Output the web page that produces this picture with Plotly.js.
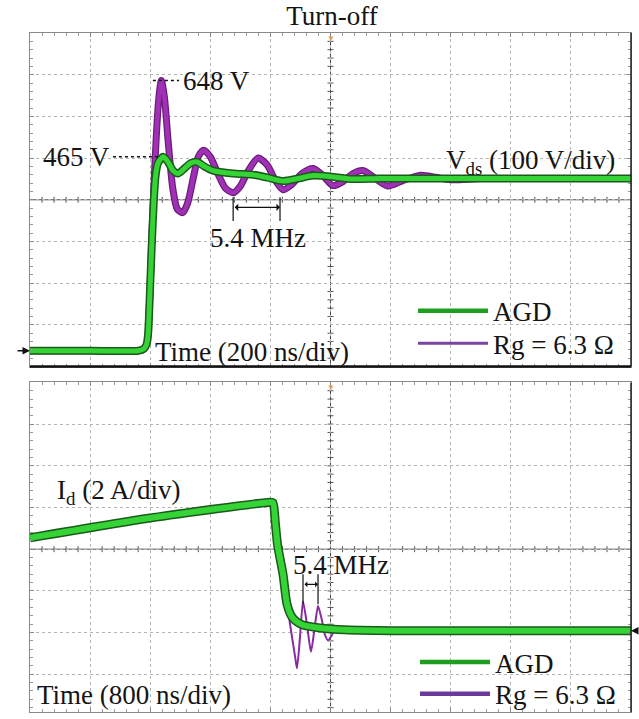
<!DOCTYPE html>
<html><head><meta charset="utf-8">
<script src="https://cdn.plot.ly/plotly-3.0.1.min.js"></script>
<style>html,body{margin:0;padding:0;background:#fff;} #chart{width:639px;height:719px;}</style>
</head><body><div id="chart"></div>
<script>
// ---------- DATA ----------
// Top panel: drain-source voltage at turn-off, time in ns (200 ns/div), voltage in V (100 V/div)
const vdsTimeRg = [0, 200, 360, 378, 388, 393, 398, 405, 412, 420, 428, 437, 447, 460, 475, 490, 508, 525, 545, 560, 578, 600, 625, 650, 676, 700, 725, 759, 790, 815, 842, 870, 905, 942, 975, 1008, 1040, 1075, 1108, 1140, 1190, 1240, 1300, 1350, 1400, 1500, 1700, 2000];
const vdsRg     = [0, 0,   0,   4,   15,  40,  120, 260, 390, 510, 600, 648, 610, 500, 390, 340, 331, 355, 420, 465, 481, 465, 425, 390, 379, 395, 430, 462, 445, 410, 386, 398, 425, 437, 420, 396, 405, 425, 432, 418, 395, 408, 421, 416, 410, 413, 413, 413];
const vdsTimeAgd = [0, 200, 360, 378, 388, 393, 398, 405, 412, 418, 426, 443, 460, 476, 493, 515, 535, 556, 580, 609, 676, 742, 792, 842, 892, 942, 998, 1065, 1165, 1400, 1700, 2000];
const vdsAgd     = [0, 0,   0,   4,   15,  40,  120, 250, 360, 420, 450, 465, 452, 432, 425, 438, 450, 453, 442, 432, 425, 422, 415, 407, 413, 420, 418, 412, 413, 413, 413, 413];
// Bottom panel: drain current, time in ns (800 ns/div), current in A (2 A/div)
const idTimeAgd = [0, 1597, 3195, 3235, 3265, 3295, 3368, 3421, 3488, 3554, 3634, 3860, 4193, 5000, 8000];
const idAgd     = [4.46, 5.41, 6.17, 6.15, 5.2, 4.13, 2.71, 1.28, 0.66, 0.43, 0.28, 0.14, 0.05, 0, 0];
const idTimeRg = [0, 1597, 3195, 3235, 3265, 3295, 3368, 3421, 3475, 3527, 3554, 3594, 3634, 3687, 3740, 3787, 3834, 3880, 3927, 3967, 4020, 4060, 4150, 4300, 8000];
const idRg     = [4.46, 5.41, 6.17, 6.15, 5.2, 4.13, 2.71, 1.3, 0.0, -1.2, -1.8, -0.3, 1.42, 0.3, -1.0, 0.1, 1.19, 0.6, -0.2, -0.45, -0.2, 0.1, 0.05, 0, 0];
// Labels
const seriesNames = ['AGD', 'Rg = 6.3 Ω'];
const panelTitle = 'Turn-off';
const ringLabel = '5.4 MHz';
const vdsLabel = 'V<sub>ds</sub> (100 V/div)';
const idLabel = 'I<sub>d</sub> (2 A/div)';
const timeLabelTop = 'Time (200 ns/div)';
const timeLabelBottom = 'Time (800 ns/div)';

// ---------- STYLE / GEOMETRY ----------
const FONT = "'Liberation Serif', 'Times New Roman', serif";
const TXT = '#141414';
const W = 639, H = 719, ML = 30, MR = 8, MT = 33, MB = 0;
const plotH = H - MT - MB, plotW = W - ML - MR;
const py = p => (H - p) / plotH;              // pixel row -> paper y
const topDom = [py(370), 1];
const botDom = [0, py(386)];
const tRangeTop = [0, 2000], tDivTop = 200;
const tRangeBot = [0, 8000], tDivBot = 800;
const vRange = [-38, 762], vDiv = 100;
const iRange = [-3.893, 11.917], iDiv = 2;

const GREEN = '#36d336', GREEN_DARK = '#1a5a1a';
const PURPLE = '#a030b4', PURPLE_DARK = '#6a1c7c';

function scopeAxis(range, div, tick0, extra) {
  return Object.assign({
    range: range, tick0: tick0, dtick: div, showgrid: true, gridcolor: '#b4b4b4', griddash: 'dot', gridwidth: 1,
    zeroline: false, showline: true, linecolor: '#8a8a8a', linewidth: 1, mirror: 'ticks',
    ticks: 'inside', ticklen: 4, tickcolor: '#8a8a8a', tickwidth: 1, showticklabels: false,
    minor: {ticks: 'inside', ticklen: 3, tickcolor: '#999', tickwidth: 1, dtick: div / 5, tick0: tick0, showgrid: false},
    fixedrange: true
  }, extra || {});
}

const traces = [
  // top panel
  {x: vdsTimeRg, y: vdsRg, mode: 'lines', line: {color: PURPLE_DARK, width: 7, shape: 'spline', smoothing: 0.7}, xaxis: 'x', yaxis: 'y', showlegend: false, hoverinfo: 'skip'},
  {x: vdsTimeRg, y: vdsRg, mode: 'lines', line: {color: PURPLE, width: 4.5, shape: 'spline', smoothing: 0.7}, xaxis: 'x', yaxis: 'y', showlegend: false, name: seriesNames[1]},
  {x: vdsTimeAgd, y: vdsAgd, mode: 'lines', line: {color: GREEN_DARK, width: 8, shape: 'spline', smoothing: 0.7}, xaxis: 'x', yaxis: 'y', showlegend: false, hoverinfo: 'skip'},
  {x: vdsTimeAgd, y: vdsAgd, mode: 'lines', line: {color: GREEN, width: 5, shape: 'spline', smoothing: 0.7}, xaxis: 'x', yaxis: 'y', showlegend: false, name: seriesNames[0]},
  // bottom panel
  {x: idTimeRg, y: idRg, mode: 'lines', line: {color: '#8a2aa0', width: 2, shape: 'spline', smoothing: 0.6}, xaxis: 'x2', yaxis: 'y2', showlegend: false, name: seriesNames[1]},
  {x: idTimeAgd, y: idAgd, mode: 'lines', line: {color: GREEN_DARK, width: 9, shape: 'spline', smoothing: 0.6}, xaxis: 'x2', yaxis: 'y2', showlegend: false, hoverinfo: 'skip'},
  {x: idTimeAgd, y: idAgd, mode: 'lines', line: {color: GREEN, width: 6, shape: 'spline', smoothing: 0.6}, xaxis: 'x2', yaxis: 'y2', showlegend: false, name: seriesNames[0]},
  // legend entries
  {x: [null], y: [null], mode: 'lines', name: seriesNames[0], line: {color: '#1e9e1e', width: 4.5}, xaxis: 'x', yaxis: 'y', legend: 'legend'},
  {x: [null], y: [null], mode: 'lines', name: seriesNames[1], line: {color: '#7a44a4', width: 3}, xaxis: 'x', yaxis: 'y', legend: 'legend2'},
  {x: [null], y: [null], mode: 'lines', name: seriesNames[0], line: {color: '#1e9e1e', width: 4.5}, xaxis: 'x2', yaxis: 'y2', legend: 'legend3'},
  {x: [null], y: [null], mode: 'lines', name: seriesNames[1], line: {color: '#6a3a9c', width: 4.5}, xaxis: 'x2', yaxis: 'y2', legend: 'legend4'}
];

const topPeak = Math.max(...vdsRg);
const agdPeak = Math.max(...vdsAgd);
const vCenter = (vRange[0] + vRange[1]) / 2;
const iCenter = iRange[1] - 4 * iDiv;
const tCenterTop = (tRangeTop[0] + tRangeTop[1]) / 2;
const tCenterBot = (tRangeBot[0] + tRangeBot[1]) / 2;

const shapes = [];
const dark = {color: '#4a4a4a', width: 1};
// center cross lines
shapes.push({type: 'line', xref: 'x', yref: 'y domain', x0: tCenterTop, x1: tCenterTop, y0: 0, y1: 1, line: dark, layer: 'below'});
shapes.push({type: 'line', xref: 'x domain', yref: 'y', x0: 0, x1: 1, y0: vCenter, y1: vCenter, line: dark, layer: 'below'});
shapes.push({type: 'line', xref: 'x2', yref: 'y2 domain', x0: tCenterBot, x1: tCenterBot, y0: 0, y1: 1, line: dark, layer: 'below'});
shapes.push({type: 'line', xref: 'x2 domain', yref: 'y2', x0: 0, x1: 1, y0: iCenter, y1: iCenter, line: dark, layer: 'below'});
// center cross sub-division ticks
const tk = {color: '#555', width: 1};
for (let k = 1; k < 40; k++) {
  if (k % 5 === 0) continue;
  shapes.push({type: 'line', xref: 'x', yref: 'y domain', xsizemode: 'pixel', xanchor: tCenterTop, x0: -3, x1: 3, y0: k / 40, y1: k / 40, line: tk, layer: 'below'});
}
for (let k = 1; k < 50; k++) {
  if (k % 5 === 0) continue;
  shapes.push({type: 'line', xref: 'x domain', yref: 'y', ysizemode: 'pixel', yanchor: vCenter, y0: -3, y1: 3, x0: k / 50, x1: k / 50, line: tk, layer: 'below'});
  shapes.push({type: 'line', xref: 'x2 domain', yref: 'y2', ysizemode: 'pixel', yanchor: iCenter, y0: -3, y1: 3, x0: k / 50, x1: k / 50, line: tk, layer: 'below'});
}
for (let v = iRange[1] - iDiv / 5; v > iRange[0]; v -= iDiv / 5) {
  shapes.push({type: 'line', xref: 'x2', yref: 'y2', xsizemode: 'pixel', xanchor: tCenterBot, x0: -3, x1: 3, y0: v, y1: v, line: tk, layer: 'below'});
}
// darker borders (right / bottom of top panel, right of bottom panel)
shapes.push({type: 'line', xref: 'paper', yref: 'paper', x0: 0, x1: 1, y0: topDom[0], y1: topDom[0], line: {color: '#111', width: 2.5}});
shapes.push({type: 'line', xref: 'paper', yref: 'paper', x0: 1, x1: 1, y0: topDom[0], y1: topDom[1], line: {color: '#222', width: 1.5}});
shapes.push({type: 'line', xref: 'paper', yref: 'paper', x0: 1, x1: 1, y0: botDom[0], y1: botDom[1], line: {color: '#222', width: 1.5}});
// dotted leader lines to the peak labels
shapes.push({type: 'line', xref: 'x', yref: 'y', x0: 409, x1: 496, y0: topPeak, y1: topPeak, line: {color: '#111', width: 1.5, dash: 'dot'}});
shapes.push({type: 'line', xref: 'x', yref: 'y', x0: 276, x1: 433, y0: agdPeak, y1: agdPeak, line: {color: '#111', width: 1.5, dash: 'dot'}});
// period markers
const mk = {color: '#111', width: 1.2};
shapes.push({type: 'line', xref: 'x', yref: 'y', x0: 676, x1: 676, y0: 311, y1: 368, line: mk});
shapes.push({type: 'line', xref: 'x', yref: 'y', x0: 832, x1: 832, y0: 311, y1: 368, line: mk});
shapes.push({type: 'line', xref: 'x2', yref: 'y2', x0: 3634, x1: 3634, y0: 1.28, y1: 2.71, line: mk});
shapes.push({type: 'line', xref: 'x2', yref: 'y2', x0: 3834, x1: 3834, y0: 1.28, y1: 2.71, line: mk});

const tf = {family: FONT, size: 27, color: TXT};
const annotations = [
  {xref: 'x', yref: 'y', x: 503, y: topPeak, text: topPeak + ' V', xanchor: 'left', yanchor: 'middle', showarrow: false, font: tf},
  {xref: 'x', yref: 'y', x: 273, y: agdPeak, text: agdPeak + ' V', xanchor: 'right', yanchor: 'middle', showarrow: false, font: tf},
  {xref: 'x', yref: 'y', x: 759, y: 271, text: ringLabel, xanchor: 'center', yanchor: 'middle', showarrow: false, font: tf},
  {xref: 'x', yref: 'y', x: 832, y: 344, axref: 'x', ayref: 'y', ax: 676, ay: 344, text: '', showarrow: true, arrowside: 'end+start', arrowhead: 1, arrowsize: 1, arrowwidth: 1.2, arrowcolor: '#111'},
  {xref: 'x', yref: 'y', x: 1953, y: 453, text: vdsLabel, xanchor: 'right', yanchor: 'middle', showarrow: false, font: tf},
  {xref: 'x', yref: 'y', x: 410, y: -3.5, text: timeLabelTop, xanchor: 'left', yanchor: 'middle', showarrow: false, font: tf},
  {xref: 'x domain', yref: 'y', x: 0, y: 0, ax: -14, ay: 0, text: '', showarrow: true, arrowhead: 2, arrowsize: 1, arrowwidth: 1.5, arrowcolor: '#111'},
  {xref: 'x domain', yref: 'y domain', x: 0.5, y: 1, text: '▼', showarrow: false, xanchor: 'center', yanchor: 'top', yshift: 3, font: {size: 8, color: '#e0a040'}},
  {xref: 'x2', yref: 'y2', x: 333, y: 6.65, text: idLabel, xanchor: 'left', yanchor: 'middle', showarrow: false, font: tf},
  {xref: 'x2', yref: 'y2', x: 3480, y: 3.18, text: ringLabel, xanchor: 'left', yanchor: 'middle', showarrow: false, font: tf},
  {xref: 'x2', yref: 'y2', x: 3834, y: 2.23, axref: 'x2', ayref: 'y2', ax: 3634, ay: 2.23, text: '', showarrow: true, arrowside: 'end+start', arrowhead: 1, arrowsize: 0.8, arrowwidth: 1.2, arrowcolor: '#111'},
  {xref: 'x2', yref: 'y2', x: 60, y: -3.09, text: timeLabelBottom, xanchor: 'left', yanchor: 'middle', showarrow: false, font: tf},
  {xref: 'x2 domain', yref: 'y2', x: 1, y: 0, ax: 10, ay: 0, text: '', showarrow: true, arrowhead: 2, arrowsize: 1, arrowwidth: 1.5, arrowcolor: '#111'},
  {xref: 'x2 domain', yref: 'y2 domain', x: 0.5, y: 1, text: '▼', showarrow: false, xanchor: 'center', yanchor: 'top', yshift: 3, font: {size: 8, color: '#e0a040'}}
];

const legBase = {xref: 'paper', yref: 'paper', xanchor: 'left', yanchor: 'middle', bgcolor: 'rgba(0,0,0,0)', borderwidth: 0, itemwidth: 70, font: tf};
const layout = {
  width: W, height: H, margin: {l: ML, r: MR, t: MT, b: MB},
  paper_bgcolor: '#fff', plot_bgcolor: '#fff',
  title: {text: panelTitle, font: tf, x: 332 / W, xref: 'container', xanchor: 'center', y: 1 - 16 / H, yref: 'container', yanchor: 'middle'},
  xaxis: scopeAxis(tRangeTop, tDivTop, tRangeTop[0], {anchor: 'y', domain: [0, 1]}),
  yaxis: scopeAxis(vRange, vDiv, vRange[0], {anchor: 'x', domain: topDom}),
  xaxis2: scopeAxis(tRangeBot, tDivBot, tRangeBot[0], {anchor: 'y2', domain: [0, 1]}),
  yaxis2: scopeAxis(iRange, iDiv, iRange[1], {anchor: 'x2', domain: botDom}),
  showlegend: true,
  legend: Object.assign({}, legBase, {x: (413 - ML) / plotW, y: py(314)}),
  legend2: Object.assign({}, legBase, {x: (413 - ML) / plotW, y: py(347)}),
  legend3: Object.assign({}, legBase, {x: (415 - ML) / plotW, y: py(669)}),
  legend4: Object.assign({}, legBase, {x: (415 - ML) / plotW, y: py(701)}),
  shapes: shapes,
  annotations: annotations
};

Plotly.newPlot('chart', traces, layout, {staticPlot: true, displayModeBar: false});
</script>
</body></html>
